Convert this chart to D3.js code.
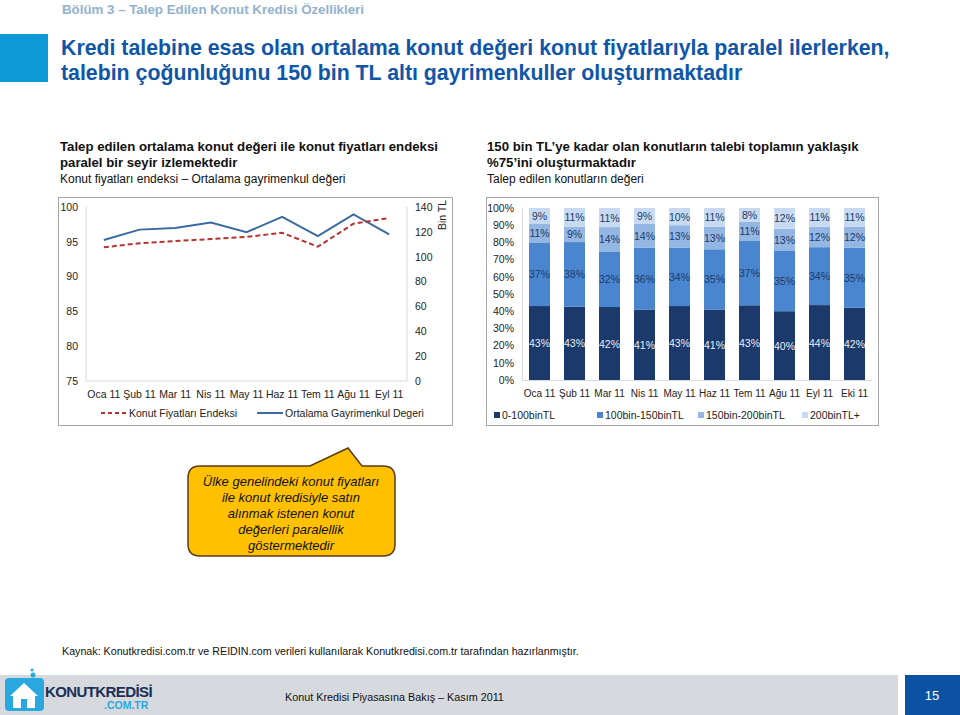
<!DOCTYPE html>
<html><head><meta charset="utf-8">
<script src="https://cdn.jsdelivr.net/npm/d3@7/dist/d3.min.js"></script>
<style>body{margin:0;background:#fff}svg{display:block}text{font-family:"Liberation Sans",Arial,sans-serif}</style>
</head><body>
<svg id="c" width="960" height="715"></svg>
<script>
// ---- data ----
const months = ["Oca 11","Şub 11","Mar 11","Nis 11","May 11","Haz 11","Tem 11","Ağu 11","Eyl 11"];
const indexValues = [94.2, 94.8, 95.1, 95.4, 95.7, 96.3, 94.3, 97.6, 98.4];      // Konut Fiyatları Endeksi (left axis)
const avgValues = [113.5, 121.8, 123.2, 127.5, 119.7, 132.0, 116.5, 134.0, 118.0]; // Ortalama Gayrimenkul Degeri (Bin TL, right axis)
const leftTicks = [75, 80, 85, 90, 95, 100];
const rightTicks = [0, 20, 40, 60, 80, 100, 120, 140];

const barMonths = ["Oca 11","Şub 11","Mar 11","Nis 11","May 11","Haz 11","Tem 11","Ağu 11","Eyl 11","Eki 11"];
const seriesNames = ["0-100binTL","100bin-150binTL","150bin-200binTL","200binTL+"];
const s0_100 = [43, 43, 42, 41, 43, 41, 43, 40, 44, 42];
const s100_150 = [37, 38, 32, 36, 34, 35, 37, 35, 34, 35];
const s150_200 = [11, 9, 14, 14, 13, 13, 11, 13, 12, 12];
const s200p = [9, 11, 11, 9, 10, 11, 8, 12, 11, 11];
const pctTicks = [0,10,20,30,40,50,60,70,80,90,100];

const svg = d3.select("#c");

// ---- header ----
svg.append("text").attr("x",62).attr("y",14).attr("font-size",13.3).attr("font-weight","bold").attr("fill","#93b1cf")
  .text("Bölüm 3 – Talep Edilen Konut Kredisi Özellikleri");
svg.append("rect").attr("x",0).attr("y",34).attr("width",48).attr("height",48).attr("fill","#0e9ad8");
svg.append("text").attr("x",61).attr("y",55).attr("font-size",21.3).attr("font-weight","bold").attr("fill","#0f56a8")
  .text("Kredi talebine esas olan ortalama konut değeri konut fiyatlarıyla paralel ilerlerken,");
svg.append("text").attr("x",61).attr("y",80).attr("font-size",21.3).attr("font-weight","bold").attr("fill","#0f56a8")
  .text("talebin çoğunluğunu 150 bin TL altı gayrimenkuller oluşturmaktadır");

function sub(x, lines){
  lines.forEach((l,i)=>{
    svg.append("text").attr("x",x).attr("y",151+i*16).attr("font-size",l.b?13.2:12)
      .attr("font-weight",l.b?"bold":"normal").attr("fill","#111").text(l.t);
  });
}
sub(60,[{t:"Talep edilen ortalama konut değeri ile konut fiyatları endeksi",b:1},{t:"paralel bir seyir izlemektedir",b:1},{t:"Konut fiyatları endeksi – Ortalama gayrimenkul değeri"}]);
sub(487,[{t:"150 bin TL’ye kadar olan konutların talebi toplamın yaklaşık",b:1},{t:"%75’ini oluşturmaktadır",b:1},{t:"Talep edilen konutların değeri"}]);

// ---- left chart ----
svg.append("rect").attr("x",58.5).attr("y",197.5).attr("width",394).attr("height",228).attr("fill","#fff").attr("stroke","#a6a6a6");
const lx = d3.scaleBand().domain(months).range([86,407]);
const ly = d3.scaleLinear().domain([75,100]).range([381,207]);
const ry = d3.scaleLinear().domain([0,140]).range([381,207]);
const gL = svg.append("g");
gL.append("path").attr("d",`M86,207V381H407V207`).attr("fill","none").attr("stroke","#d9d9d9");
const axL = gL.append("g").attr("transform","translate(86,0)").call(d3.axisLeft(ly).tickValues(leftTicks).tickSize(0).tickPadding(8));
const axR = gL.append("g").attr("transform","translate(407,0)").call(d3.axisRight(ry).tickValues(rightTicks).tickSize(0).tickPadding(8));
const axB = gL.append("g").attr("transform","translate(0,381)").call(d3.axisBottom(lx).tickSize(0).tickPadding(8));
[axL,axR,axB].forEach(a=>{a.select(".domain").remove();a.selectAll("text").attr("font-size",10.5).attr("fill","#222").attr("font-family","Liberation Sans, Arial");});
axB.selectAll("text").attr("dy","0.9em");
gL.append("text").attr("transform","translate(446,215) rotate(-90)").attr("text-anchor","middle")
  .attr("font-size",10.5).attr("fill","#222").text("Bin TL");
const lineL = d3.line().x((d,i)=>lx(months[i])+lx.bandwidth()/2).y(d=>ly(d));
const lineR = d3.line().x((d,i)=>lx(months[i])+lx.bandwidth()/2).y(d=>ry(d));
gL.append("path").attr("d",lineR(avgValues)).attr("fill","none").attr("stroke","#3a6aa0").attr("stroke-width",2);
gL.append("path").attr("d",lineL(indexValues)).attr("fill","none").attr("stroke","#b83232").attr("stroke-width",2).attr("stroke-dasharray","5,3");
gL.append("line").attr("x1",101).attr("x2",127).attr("y1",413).attr("y2",413).attr("stroke","#b83232").attr("stroke-width",2).attr("stroke-dasharray","4,3");
gL.append("text").attr("x",129).attr("y",417).attr("font-size",10.5).attr("fill","#222").text("Konut Fiyatları Endeksi");
gL.append("line").attr("x1",257).attr("x2",283).attr("y1",413).attr("y2",413).attr("stroke","#3a6aa0").attr("stroke-width",2);
gL.append("text").attr("x",285).attr("y",417).attr("font-size",10.5).attr("fill","#222").text("Ortalama Gayrimenkul Degeri");

// ---- right chart ----
svg.append("rect").attr("x",486.5).attr("y",197.5).attr("width",392).attr("height",228).attr("fill","#fff").attr("stroke","#a6a6a6");
const table = barMonths.map((m,i)=>({m, [seriesNames[0]]:s0_100[i],[seriesNames[1]]:s100_150[i],[seriesNames[2]]:s150_200[i],[seriesNames[3]]:s200p[i]}));
const stack = d3.stack().keys(seriesNames).offset(d3.stackOffsetExpand)(table);
const bx = d3.scaleBand().domain(barMonths).range([522,872]).paddingInner(0.4).paddingOuter(0.2);
const by = d3.scaleLinear().domain([0,1]).range([380,208]);
const colors = ["#1b3a6b","#4a86d0","#93b6e2","#c8daf1"];
const labelColors = ["#e8eef8","#1b3a6b","#1b3a6b","#1b3a6b"];
const gR = svg.append("g");
const ayR = gR.append("g").attr("transform","translate(522,0)").call(d3.axisLeft(by).tickValues(pctTicks.map(v=>v/100)).tickFormat(d=>Math.round(d*100)+"%").tickSize(0).tickPadding(8));
ayR.select(".domain").attr("stroke","#d9d9d9");
ayR.selectAll("text").attr("font-size",10.5).attr("fill","#222");
gR.append("line").attr("x1",522).attr("x2",872).attr("y1",380.5).attr("y2",380.5).attr("stroke","#d9d9d9");
const axBR = gR.append("g").attr("transform","translate(0,380)").call(d3.axisBottom(bx).tickSize(0).tickPadding(8));
axBR.select(".domain").remove();
axBR.selectAll("text").attr("font-size",10).attr("fill","#222").attr("font-family","Lato, 'Open Sans', sans-serif").attr("dy","0.9em");
stack.forEach((s,k)=>{
  const g = gR.append("g");
  g.selectAll("rect").data(s).join("rect")
    .attr("x",d=>bx(d.data.m)).attr("width",bx.bandwidth())
    .attr("y",d=>by(d[1])).attr("height",d=>by(d[0])-by(d[1])).attr("fill",colors[k]);
  g.selectAll("text").data(s).join("text")
    .attr("x",d=>bx(d.data.m)+bx.bandwidth()/2).attr("y",d=>(by(d[0])+by(d[1]))/2+4)
    .attr("text-anchor","middle").attr("font-size",10.5).attr("fill",labelColors[k])
    .text(d=>d.data[seriesNames[k]]+"%");
});
const legX = [494,597,698,802];
seriesNames.forEach((n,k)=>{
  gR.append("rect").attr("x",legX[k]).attr("y",412).attr("width",6).attr("height",6).attr("fill",colors[k]);
  gR.append("text").attr("x",legX[k]+8).attr("y",419).attr("font-size",10.5).attr("fill","#222").text(n);
});

// ---- callout ----
const cg = svg.append("g");
cg.append("path").attr("d","M200,466 H310 L348,448 L362,466 H383 Q395,466 395,478 V544 Q395,556 383,556 H200 Q188,556 188,544 V478 Q188,466 200,466 Z")
  .attr("fill","#ffc000").attr("stroke","#5a3a10").attr("stroke-width",1.5);
["Ülke genelindeki konut fiyatları","ile konut kredisiyle satın","alınmak istenen konut","değerleri paralellik","göstermektedir"].forEach((t,i)=>{
  cg.append("text").attr("x",291).attr("y",486+i*16).attr("text-anchor","middle").attr("font-size",13)
    .attr("font-style","italic").attr("fill","#111").text(t);
});

// ---- footer ----
svg.append("text").attr("x",62).attr("y",655).attr("font-size",10.7).attr("fill","#111")
  .text("Kaynak: Konutkredisi.com.tr ve REIDIN.com verileri kullanılarak Konutkredisi.com.tr tarafından hazırlanmıştır.");
svg.append("rect").attr("x",0).attr("y",675).attr("width",898).attr("height",40).attr("fill","#d6d9dd");
svg.append("rect").attr("x",905).attr("y",675).attr("width",55).attr("height",40).attr("fill","#0b52a3");
svg.append("text").attr("x",932).attr("y",700).attr("text-anchor","middle").attr("font-size",13).attr("fill","#fff").text("15");
svg.append("text").attr("x",285).attr("y",701).attr("font-size",10.8).attr("fill","#111").text("Konut Kredisi Piyasasına Bakış – Kasım 2011");
const lg = svg.append("g");
lg.append("rect").attr("x",5).attr("y",678).attr("width",39).attr("height",33).attr("rx",4).attr("fill","#29a8e0");
lg.append("path").attr("d","M10,696 L24,683 L38,696 L35,696 L35,708 L13,708 L13,696 Z").attr("fill","#fff");
lg.append("rect").attr("x",21).attr("y",699).attr("width",6).attr("height",9).attr("fill","#29a8e0");
lg.append("circle").attr("cx",33).attr("cy",675).attr("r",2.5).attr("fill","#29a8e0");
lg.append("circle").attr("cx",32).attr("cy",670).attr("r",1.5).attr("fill","#29a8e0");
lg.append("text").attr("x",45).attr("y",697).attr("font-size",15).attr("font-weight","bold").attr("fill","#1a2f55").attr("font-family","'Open Sans', sans-serif").attr("letter-spacing","-0.6").text("KONUTKREDİSİ");
lg.append("text").attr("x",104).attr("y",709).attr("font-size",10.5).attr("font-weight","bold").attr("fill","#29a8e0").attr("font-family","'Open Sans', sans-serif").text(".COM.TR");
</script>
</body></html>
